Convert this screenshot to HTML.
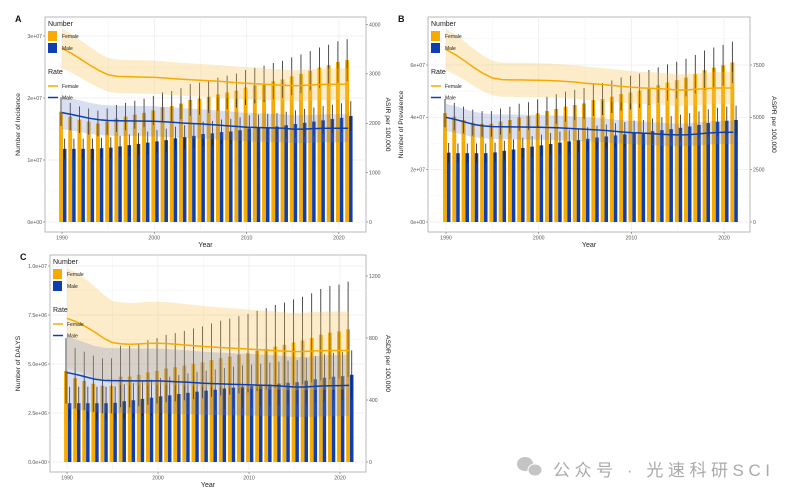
<!DOCTYPE html>
<html><head><meta charset="utf-8"><style>
html,body{margin:0;padding:0;background:#fff}
svg{display:block;font-family:"Liberation Sans",sans-serif}
</style></head><body>
<svg id="chart" width="795" height="501" viewBox="0 0 795 501" xmlns="http://www.w3.org/2000/svg">
<rect width="795" height="501" fill="#fff"/>
<g>
<ellipse cx="525" cy="464" rx="8" ry="7" fill="#c4c4c4"/>
<ellipse cx="535" cy="470" rx="7" ry="6" fill="#c4c4c4" stroke="#fff" stroke-width="1"/>
<text x="553" y="476" font-size="17" fill="#aaa" textLength="217" lengthAdjust="spacing" font-family="'Liberation Sans','Noto Sans CJK SC',sans-serif">公众号 · 光速科研SCI</text>
</g>
</svg>
<script>
const years = [];
for (let y = 1990; y <= 2021; y++) years.push(y);

// Panel A: Incidence (numbers in units of 1e7), ASIR per 100,000
const aFemaleNum = [1.78,1.70,1.65,1.62,1.59,1.62,1.67,1.70,1.73,1.76,1.80,1.85,1.87,1.91,1.97,1.99,2.02,2.06,2.09,2.12,2.17,2.20,2.23,2.27,2.30,2.35,2.39,2.44,2.49,2.53,2.58,2.61];
const aMaleNum = [1.18,1.18,1.18,1.18,1.19,1.20,1.22,1.24,1.26,1.28,1.30,1.32,1.35,1.37,1.39,1.42,1.43,1.45,1.46,1.48,1.51,1.52,1.53,1.54,1.56,1.58,1.60,1.62,1.64,1.66,1.68,1.71];
const aFemaleRate = [3515,3420,3300,3180,3070,2980,2950,2945,2940,2935,2930,2920,2905,2890,2880,2870,2860,2850,2835,2820,2810,2800,2790,2780,2770,2760,2765,2775,2785,2790,2790,2790];
const aMaleRate = [2215,2180,2140,2100,2070,2055,2050,2048,2046,2044,2040,2030,2020,2005,1995,1987,1975,1962,1948,1935,1920,1915,1910,1905,1900,1880,1880,1888,1895,1900,1900,1900];
const aLeftTicks = ["0e+00","1e+07","2e+07","3e+07"];
const aRightTicks = ["0","1000","2000","3000","4000"];

// Panel B: Prevalence (1e7), ASPR
const bFemaleNum = [4.16,4.03,3.90,3.80,3.75,3.75,3.84,3.90,4.00,4.05,4.15,4.24,4.32,4.41,4.47,4.53,4.66,4.70,4.79,4.89,4.95,5.02,5.14,5.23,5.33,5.42,5.52,5.65,5.80,5.90,5.99,6.10];
const bMaleNum = [2.65,2.63,2.63,2.63,2.63,2.66,2.72,2.77,2.83,2.88,2.93,2.98,3.03,3.08,3.13,3.18,3.23,3.27,3.31,3.35,3.40,3.42,3.47,3.51,3.55,3.60,3.65,3.71,3.78,3.83,3.87,3.90];
const bFemaleRate = [8240,8000,7700,7380,7100,6880,6800,6790,6790,6780,6770,6760,6740,6710,6680,6630,6600,6560,6520,6480,6440,6410,6390,6370,6340,6300,6310,6340,6370,6400,6400,6400];
const bMaleRate = [5000,4900,4780,4660,4590,4555,4550,4545,4540,4532,4524,4515,4500,4480,4455,4430,4405,4380,4340,4300,4270,4250,4230,4200,4175,4160,4170,4200,4240,4270,4285,4286];
const bLeftTicks = ["0e+00","2e+07","4e+07","6e+07"];
const bRightTicks = ["0","2500","5000","7500"];

// Panel C: DALYs (1e6), ASDR
const cFemaleNum = [4.65,4.28,4.14,3.99,3.89,3.89,4.36,4.36,4.45,4.57,4.65,4.77,4.84,4.92,5.01,5.09,5.20,5.30,5.38,5.47,5.55,5.67,5.77,5.89,5.98,6.10,6.20,6.33,6.49,6.60,6.66,6.77];
const cMaleNum = [3.00,3.00,3.00,3.00,3.00,3.02,3.10,3.15,3.22,3.28,3.35,3.40,3.47,3.53,3.59,3.64,3.69,3.75,3.80,3.85,3.88,3.92,3.96,4.00,4.04,4.07,4.15,4.22,4.30,4.35,4.38,4.45];
const cFemaleRate = [927,905,875,840,800,770,762,760,762,765,766,764,760,755,750,745,742,738,735,732,728,725,722,718,715,712,713,716,718,719,719,719];
const cMaleRate = [577,565,550,535,527,525,524,523,523,523,523,521,518,515,512,508,506,504,502,500,498,496,494,492,488,484,484,487,490,492,493,494];
const cLeftTicks = ["0.0e+00","2.5e+06","5.0e+06","7.5e+06","1.0e+07"];
const cRightTicks = ["0","400","800","1200"];

const xTicks = [1990,2000,2010,2020];

const NS = "http://www.w3.org/2000/svg";
const svg = document.getElementById("chart");
const FEM = "#F7AA00", MAL = "#0F3FAE";

function mk(tag, attrs, parent) {
  const e = document.createElementNS(NS, tag);
  for (const k in attrs) e.setAttribute(k, attrs[k]);
  (parent || svg).appendChild(e);
  return e;
}

function panel(cfg) {
  const g = mk("g", {});
  
  
  const x = v => cfg.x0 + (v - 1990) * cfg.xs;
  const yl = v => cfg.yb - v / cfg.lMax * (cfg.yb - cfg.ylTop);
  const yr = v => cfg.yb - v / cfg.rMax * (cfg.yb - cfg.yrTop);
  const fr = mk("rect", {x: cfg.L, y: cfg.T, width: cfg.R - cfg.L, height: cfg.B - cfg.T, fill: "#fff", stroke: "#a8a8a8", "stroke-width": 0.8}, g);
  
  
  for (let yv = 1985; yv <= 2025; yv += 5) {
    const xx = x(yv);
    if (xx <= cfg.L || xx >= cfg.R) continue;
    mk("line", {x1: xx, x2: xx, y1: cfg.T, y2: cfg.B, stroke: "#ececec", "stroke-width": yv % 10 === 0 ? 0.7 : 0.4}, g);
  }
  const nL = cfg.leftTicks.length;
  for (let i = 0; i < nL; i++) {
    const v = cfg.lMax / (nL - 1) * i;
    mk("line", {x1: cfg.L, x2: cfg.R, y1: yl(v), y2: yl(v), stroke: "#ececec", "stroke-width": 0.7}, g);
    const v2 = v + cfg.lMax / (nL - 1) / 2;
    if (yl(v2) > cfg.T) mk("line", {x1: cfg.L, x2: cfg.R, y1: yl(v2), y2: yl(v2), stroke: "#f3f3f3", "stroke-width": 0.4}, g);
    mk("line", {x1: cfg.L - 2, x2: cfg.L, y1: yl(v), y2: yl(v), stroke: "#555", "stroke-width": 0.5}, g);
    const t = mk("text", {x: cfg.L - 3, y: yl(v) + 1.8, "font-size": 5.2, fill: "#555", "text-anchor": "end"}, g);
    t.textContent = cfg.leftTicks[i];
    
    
  }
  const nR = cfg.rightTicks.length;
  for (let i = 0; i < nR; i++) {
    const v = Number(cfg.rightTicks[i]);
    mk("line", {x1: cfg.R, x2: cfg.R + 2, y1: yr(v), y2: yr(v), stroke: "#555", "stroke-width": 0.5}, g);
    const t = mk("text", {x: cfg.R + 3, y: yr(v) + 1.8, "font-size": 5.2, fill: "#555"}, g);
    t.textContent = cfg.rightTicks[i];
    
    
  }
  for (const yv of xTicks) {
    mk("line", {x1: x(yv), x2: x(yv), y1: cfg.B, y2: cfg.B + 2, stroke: "#555", "stroke-width": 0.5}, g);
    const t = mk("text", {x: x(yv), y: cfg.B + 7.5, "font-size": 5.2, fill: "#555", "text-anchor": "middle"}, g);
    t.textContent = yv;
    
    
  }
  years.forEach((yv, i) => {
    const fv = cfg.fNum[i], mv = cfg.mNum[i];
    const fx = x(yv - 0.32), mx = x(yv + 0.1);
    const w1 = cfg.xs * 0.42, w2 = cfg.xs * 0.38;
    const bf = mk("rect", {x: fx, y: yl(fv), width: w1, height: cfg.yb - yl(fv), fill: FEM}, g);
    
    
    const bm = mk("rect", {x: mx, y: yl(mv), width: w2, height: cfg.yb - yl(mv), fill: MAL}, g);
    
    
    [[fx + w1 / 2, fv, cfg.fErr], [mx + w2 / 2, mv, cfg.mErr]].forEach(([cx, v, e]) => {
      const eb = mk("line", {x1: cx, x2: cx, y1: yl(v * (1 + e)), y2: yl(v * (1 - e)), stroke: "#222", "stroke-width": 0.8}, g);
      
      
    });
  });
  [[cfg.fRate, cfg.fBand, "#F5C050", FEM, "female", 0.3], [cfg.mRate, cfg.mBand, "#6680C8", MAL, "male", 0.25]].forEach(([arr, b, fc, lc, nm, op]) => {
    let up = "", lo = "";
    arr.forEach((v, i) => { up += (i ? "L" : "M") + x(years[i]) + "," + Math.max(cfg.T, yr(v * (1 + b))); });
    for (let i = arr.length - 1; i >= 0; i--) lo += "L" + x(years[i]) + "," + yr(arr[i] * (1 - b));
    const rb = mk("path", {d: up + lo + "Z", fill: fc, "fill-opacity": op}, g);
    
    
    const pts = arr.map((v, i) => x(years[i]) + "," + yr(v)).join(" ");
    const ln = mk("polyline", {points: pts, fill: "none", stroke: lc, "stroke-width": 1.5, "stroke-linejoin": "round"}, g);
    
    
  });
  const lt = mk("text", {x: 0, y: 0, "font-size": 6.8, fill: "#222", "text-anchor": "middle", transform: `translate(${cfg.lTitleX},${(cfg.T + cfg.B) / 2}) rotate(-90)`}, g);
  lt.textContent = cfg.lTitle;
  
  
  const rt = mk("text", {x: 0, y: 0, "font-size": 6.8, fill: "#222", "text-anchor": "middle", transform: `translate(${cfg.rTitleX},${(cfg.T + cfg.B) / 2}) rotate(90)`}, g);
  rt.textContent = cfg.rTitle;
  
  
  const xt = mk("text", {x: (cfg.L + cfg.R) / 2, y: cfg.B + 15, "font-size": 7, fill: "#222", "text-anchor": "middle"}, g);
  xt.textContent = "Year";
  
  
  const pl = mk("text", {x: cfg.L - 30, y: cfg.T + 5, "font-size": 9, "font-weight": "bold", fill: "#111"}, g);
  pl.textContent = cfg.letter;
  
  
  const lx = cfg.L + 3, ly = cfg.T;
  const lg = mk("g", {}, g);
  
  
  const t1 = mk("text", {x: lx, y: ly + 9, "font-size": 7, fill: "#222"}, lg); t1.textContent = "Number";
  mk("rect", {x: lx, y: ly + 14, width: 9, height: 10, fill: FEM}, lg);
  mk("rect", {x: lx, y: ly + 26, width: 9, height: 10, fill: MAL}, lg);
  const t2 = mk("text", {x: lx + 14, y: ly + 21, "font-size": 5, fill: "#222"}, lg); t2.textContent = "Female";
  const t3 = mk("text", {x: lx + 14, y: ly + 33, "font-size": 5, fill: "#222"}, lg); t3.textContent = "Male";
  const t4 = mk("text", {x: lx, y: ly + 57, "font-size": 7, fill: "#222"}, lg); t4.textContent = "Rate";
  mk("line", {x1: lx, x2: lx + 10, y1: ly + 69, y2: ly + 69, stroke: FEM, "stroke-width": 1.5}, lg);
  mk("line", {x1: lx, x2: lx + 10, y1: ly + 80.5, y2: ly + 80.5, stroke: MAL, "stroke-width": 1.5}, lg);
  const t5 = mk("text", {x: lx + 14, y: ly + 71, "font-size": 5, fill: "#222"}, lg); t5.textContent = "Female";
  const t6 = mk("text", {x: lx + 14, y: ly + 82.5, "font-size": 5, fill: "#222"}, lg); t6.textContent = "Male";
}

panel({name: "panel-a-incidence", letter: "A", L: 45, R: 366, T: 17, B: 232, x0: 62, xs: 9.23,
  yb: 222, ylTop: 36, lMax: 3, yrTop: 24.5, rMax: 4000,
  fNum: aFemaleNum, mNum: aMaleNum, fRate: aFemaleRate, mRate: aMaleRate,
  fErr: 0.13, mErr: 0.14, fBand: 0.115, mBand: 0.15,
  leftTicks: aLeftTicks, rightTicks: aRightTicks,
  lTitle: "Number of Incidence", rTitle: "ASIR per 100,000", lTitleX: 20, rTitleX: 386});
panel({name: "panel-b-prevalence", letter: "B", L: 428, R: 750, T: 17, B: 232, x0: 446, xs: 9.27,
  yb: 222, ylTop: 65, lMax: 6, yrTop: 65, rMax: 7500,
  fNum: bFemaleNum, mNum: bMaleNum, fRate: bFemaleRate, mRate: bMaleRate,
  fErr: 0.13, mErr: 0.14, fBand: 0.12, mBand: 0.13,
  leftTicks: bLeftTicks, rightTicks: bRightTicks,
  lTitle: "Number of Prevalence", rTitle: "ASPR per 100,000", lTitleX: 403, rTitleX: 772});
panel({name: "panel-c-dalys", letter: "C", L: 50, R: 366, T: 255, B: 472, x0: 67, xs: 9.1,
  yb: 462, ylTop: 266, lMax: 10, yrTop: 276, rMax: 1200,
  fNum: cFemaleNum, mNum: cMaleNum, fRate: cFemaleRate, mRate: cMaleRate,
  fErr: 0.36, mErr: 0.28, fBand: 0.35, mBand: 0.40,
  leftTicks: cLeftTicks, rightTicks: cRightTicks,
  lTitle: "Number of DALYS", rTitle: "ASDR per 100,000", lTitleX: 20, rTitleX: 386});
</script>
</body></html>
